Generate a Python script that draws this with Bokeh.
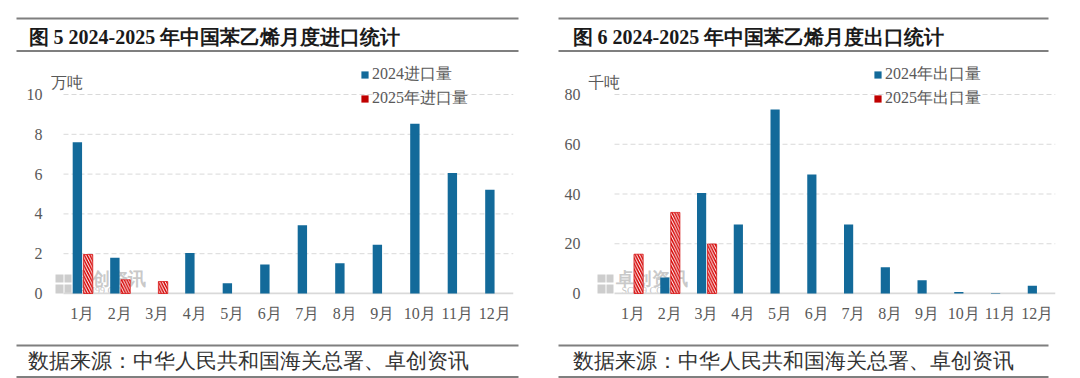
from bokeh.plotting import figure
from bokeh.models import (ColumnDataSource, Range1d, Label, BoxAnnotation,
                          Legend, LegendItem, FixedTicker)
from bokeh.transform import dodge
from bokeh.layouts import row, column
from bokeh.embed import file_html
from bokeh.resources import INLINE

# ---------------- data ----------------
months = ["1月", "2月", "3月", "4月", "5月", "6月", "7月", "8月", "9月", "10月", "11月", "12月"]
month_pos = list(range(1, 13))
import_2024 = [7.6, 1.8, 0.0, 2.03, 0.52, 1.46, 3.43, 1.52, 2.45, 8.53, 6.05, 5.21]   # 万吨
import_2025 = [1.96, 0.69, 0.6]
export_2024 = [0.0, 6.4, 40.4, 27.7, 74.0, 47.8, 27.7, 10.6, 5.3, 0.6, 0.25, 3.1]  # 千吨
export_2025 = [15.8, 32.6, 19.9]
import_ticks = [0, 2, 4, 6, 8, 10]
export_ticks = [0, 20, 40, 60, 80]

title_left = "图 5 2024-2025 年中国苯乙烯月度进口统计"
title_right = "图 6 2024-2025 年中国苯乙烯月度出口统计"
source_text = "数据来源：中华人民共和国海关总署、卓创资讯"
unit_left = "万吨"
unit_right = "千吨"
legend_left = ["2024进口量", "2025年进口量"]
legend_right = ["2024年出口量", "2025年出口量"]
wm_cn = "卓创资讯"
wm_en = "SCI99.COM"

# ---------------- style ----------------
BLUE = "#136a9a"
RED = "#d40000"
RED_SOLID = "#c00000"
GREY_TXT = "#595959"
RULE = "#7f7f7f"
GRID = "#d9d9d9"
WM = "#c0c0c0"
SERIF = "Liberation Serif"

PW = 540
HEAD_H, CHART_H, FOOT_H = 52, 283, 43
FB = 242  # frame bottom inside chart figure


def blank_fig(h):
    f = figure(width=PW, height=h, x_range=Range1d(0, PW), y_range=Range1d(h, 0),
               output_backend="svg", toolbar_location=None,
               x_axis_location=None, y_axis_location=None,
               min_border=0, min_border_left=0, min_border_right=0,
               min_border_top=0, min_border_bottom=0, frame_align=False,
               background_fill_color="white", border_fill_color="white")
    f.xgrid.visible = False
    f.ygrid.visible = False
    f.outline_line_color = None
    return f


def header(title, lx0, lx1, tx):
    f = blank_fig(HEAD_H)
    f.segment(x0=[lx0, lx0], y0=[18, 50.5], x1=[lx1, lx1], y1=[18, 50.5],
              line_color=RULE, line_width=2)
    f.add_layout(Label(x=tx, y=36, text=title, text_font=SERIF, text_font_size="20px",
                       text_font_style="bold", text_color="#1a1a1a",
                       text_baseline="middle", text_align="left"))
    return f


def footer(lx0, lx1, tx):
    f = blank_fig(FOOT_H)
    f.segment(x0=[lx0, lx0], y0=[10, 41.5], x1=[lx1, lx1], y1=[10, 41.5],
              line_color=RULE, line_width=2)
    f.add_layout(Label(x=tx, y=25, text=source_text, text_font=SERIF, text_font_size="21px",
                       text_color="#333333", text_baseline="middle", text_align="left"))
    return f


def chart(v24, v25, yticks, k, fl, g0, g1, unit, unit_x, leg_labels, leg_x, wm_x, standoff):
    pitch = (g1 - g0) / 12.0
    xr = Range1d(0.5 - (g0 - fl) / pitch, 12.5)
    yr = Range1d(-1.0 / k, 241.0 / k)
    p = figure(width=PW, height=CHART_H, x_range=xr, y_range=yr,
               output_backend="svg", toolbar_location=None,
               min_border_left=fl, min_border_right=PW - g1,
               min_border_top=0, min_border_bottom=CHART_H - FB, frame_align=False,
               background_fill_color="white", border_fill_color="white")
    p.outline_line_color = None
    p.xgrid.visible = False
    p.ygrid.visible = False

    # dashed value grid between first and last category edge
    gsrc = ColumnDataSource(dict(t=yticks[1:]))
    p.segment(x0=0.5, x1=12.5, y0="t", y1="t", source=gsrc,
              line_color=GRID, line_dash="5 3", line_width=1)

    # watermark (under bars)
    def sbox(x0, x1, y0, y1, color, alpha):
        p.add_layout(BoxAnnotation(left=x0 - fl, right=x1 - fl, top=FB - y0, bottom=FB - y1,
                                   left_units="screen", right_units="screen",
                                   top_units="screen", bottom_units="screen",
                                   fill_color=color, fill_alpha=alpha, line_color=None,
                                   level="underlay"))

    def slab(x, y, text, size, color, bold=False, alpha=1.0, level="annotation"):
        p.add_layout(Label(x=x - fl, y=FB - y, x_units="screen", y_units="screen",
                           text=text, text_font=SERIF, text_font_size=f"{size}px",
                           text_color=color, text_alpha=alpha,
                           text_font_style="bold" if bold else "normal",
                           text_baseline="middle", text_align="left", level=level))

    sbox(wm_x, wm_x + 8, 222, 230, WM, 0.8)
    sbox(wm_x + 9, wm_x + 16, 222, 230, WM, 0.8)
    sbox(wm_x, wm_x + 8, 232, 241, WM, 0.8)
    sbox(wm_x + 9, wm_x + 16, 232, 241, WM, 0.8)
    slab(wm_x + 18, 226, wm_cn, 18, WM, bold=True, alpha=0.85, level="underlay")
    slab(wm_x + 24, 238, wm_en, 10, WM, alpha=0.9, level="underlay")

    # baseline
    p.segment(x0=[0.5], y0=[yticks[0]], x1=[12.5], y1=[yticks[0]],
              line_color=GRID, line_width=2)

    s24 = ColumnDataSource(dict(x=month_pos, v=v24))
    s25 = ColumnDataSource(dict(x=month_pos[:len(v25)], v=v25))
    p.vbar(x=dodge("x", -0.13), top="v", width=0.25, source=s24,
           fill_color=BLUE, line_color=None)
    p.vbar(x=dodge("x", 0.155), top="v", width=0.25, source=s25,
           fill_color="white", line_color=RED, line_width=0.7,
           hatch_pattern="left_diagonal_line", hatch_color=RED,
           hatch_scale=5.5, hatch_weight=1.5)

    # axes
    p.yaxis.ticker = FixedTicker(ticks=yticks)
    p.yaxis.axis_line_color = None
    p.yaxis.major_tick_line_color = None
    p.yaxis.minor_tick_line_color = None
    p.yaxis.major_label_standoff = standoff
    p.yaxis.major_label_text_font = SERIF
    p.yaxis.major_label_text_font_size = "16px"
    p.yaxis.major_label_text_color = GREY_TXT

    p.xaxis.ticker = FixedTicker(ticks=month_pos)
    p.xaxis.major_label_overrides = {m: lab for m, lab in zip(month_pos, months)}
    p.xaxis.axis_line_color = None
    p.xaxis.major_tick_line_color = None
    p.xaxis.minor_tick_line_color = None
    p.xaxis.major_label_standoff = 4
    p.xaxis.major_label_text_font = SERIF
    p.xaxis.major_label_text_font_size = "16px"
    p.xaxis.major_label_text_color = GREY_TXT

    # legend with plain squares (zero-height proxy bars)
    r1 = p.vbar(x=[month_pos[0]], top=[0], bottom=[0], width=0.01,
                fill_color=BLUE, line_color=None)
    r2 = p.vbar(x=[month_pos[0]], top=[0], bottom=[0], width=0.01,
                fill_color=RED_SOLID, line_color=None)
    leg = Legend(items=[LegendItem(label=leg_labels[0], renderers=[r1]),
                        LegendItem(label=leg_labels[1], renderers=[r2])],
                 location=(leg_x - fl, FB - 57),
                 orientation="vertical", padding=0, margin=0, spacing=3,
                 glyph_width=9, glyph_height=9, label_height=20, label_standoff=3,
                 background_fill_alpha=0, border_line_color=None,
                 label_text_font=SERIF, label_text_font_size="16px",
                 label_text_color=GREY_TXT)
    p.add_layout(leg, "center")

    slab(unit_x, 30, unit, 16, GREY_TXT)
    return p


c1 = chart(import_2024, import_2025, import_ticks, 19.9, 50, 63, 513,
           unit_left, 50, legend_left, 360, 55, 2)
c2 = chart(export_2024, export_2025, export_ticks, 199.0 / 80.0, 48, 74, 515,
           unit_right, 47, legend_right, 333, 57, 2)

left = column(header(title_left, 16, 518, 28), c1, footer(16, 518, 27), spacing=0)
right = column(header(title_right, 18, 508, 32), c2, footer(18, 508, 32), spacing=0)
layout = row(left, right, spacing=0)

open("out.html", "w").write(file_html(layout, INLINE))
